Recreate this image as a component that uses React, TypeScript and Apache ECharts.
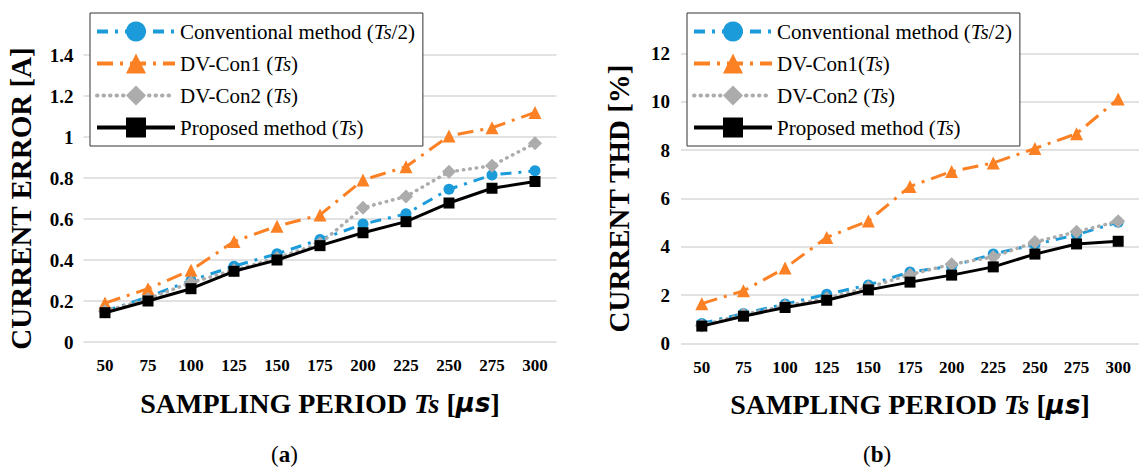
import React, { useEffect, useRef } from "react";
import * as echarts from "echarts";

const categories = ["50", "75", "100", "125", "150", "175", "200", "225", "250", "275", "300"];

// (a) current error [A]
const errConventional = [0.15, 0.22, 0.3, 0.37, 0.43, 0.5, 0.575, 0.625, 0.745, 0.815, 0.835];
const errDvCon1 = [0.19, 0.26, 0.35, 0.49, 0.565, 0.62, 0.79, 0.855, 1.005, 1.045, 1.12];
const errDvCon2 = [0.15, 0.21, 0.29, 0.35, 0.41, 0.48, 0.655, 0.71, 0.83, 0.86, 0.97];
const errProposed = [0.143, 0.2, 0.26, 0.345, 0.4, 0.47, 0.533, 0.587, 0.678, 0.75, 0.783];

// (b) current THD [%]
const thdConventional = [0.83, 1.24, 1.63, 2.04, 2.42, 2.96, 3.2, 3.7, 4.1, 4.5, 5.02];
const thdDvCon1 = [1.65, 2.18, 3.12, 4.39, 5.07, 6.5, 7.12, 7.47, 8.07, 8.68, 10.12];
const thdDvCon2 = [0.75, 1.2, 1.55, 1.87, 2.32, 2.85, 3.28, 3.58, 4.2, 4.62, 5.06];
const thdProposed = [0.72, 1.13, 1.49, 1.79, 2.22, 2.54, 2.83, 3.17, 3.7, 4.12, 4.23];

const errTicks = { min: 0, max: 1.4, interval: 0.2 };
const thdTicks = { min: 0, max: 12, interval: 2 };

const seriesNames = ["conv", "dv1", "dv2", "prop"];

const SERIF = "'Liberation Serif', 'Times New Roman', serif";

const BLUE = "#1b9bd9";
const ORANGE = "#fb8124";
const GREY = "#acacac";
const BLACK = "#000000";

export default function App() {
  const ref = useRef<HTMLDivElement>(null);

  useEffect(() => {
    document.body.style.margin = "0";
    if (!ref.current) return;
    const chart = echarts.init(ref.current, null, { renderer: "svg" });

    const styles: Record<string, any> = {
      conv: { color: BLUE, symbol: "circle", symbolSize: 11, lineStyle: { color: BLUE, width: 3, type: [11, 7, 3, 7] } },
      dv1: { color: ORANGE, symbol: "triangle", symbolSize: 13, lineStyle: { color: ORANGE, width: 3, type: [16, 7, 3, 7] } },
      dv2: { color: GREY, symbol: "diamond", symbolSize: 14, lineStyle: { color: GREY, width: 3.5, type: [0.5, 6], cap: "round" } },
      prop: { color: BLACK, symbol: "rect", symbolSize: 11, lineStyle: { color: BLACK, width: 3, type: "solid" } },
    };

    const dataA = [errConventional, errDvCon1, errDvCon2, errProposed];
    const dataB = [thdConventional, thdDvCon1, thdDvCon2, thdProposed];

    const mkSeries = (idx: number, arrs: number[][]) =>
      seriesNames.map((n, i) => ({
        name: n,
        type: "line",
        xAxisIndex: idx,
        yAxisIndex: idx,
        data: arrs[i],
        showSymbol: true,
        symbol: styles[n].symbol,
        symbolSize: styles[n].symbolSize,
        itemStyle: { color: styles[n].color },
        lineStyle: styles[n].lineStyle,
        z: 2 + i,
        emphasis: { disabled: true },
      }));

    const legendA: Record<string, string> = {
      conv: "Conventional method ({i|Ts}/2)",
      dv1: "DV-Con1 ({i|Ts})",
      dv2: "DV-Con2 ({i|Ts})",
      prop: "Proposed method ({i|Ts})",
    };
    const legendB: Record<string, string> = {
      conv: "Conventional method ({i|Ts}/2)",
      dv1: "DV-Con1({i|Ts})",
      dv2: "DV-Con2 ({i|Ts})",
      prop: "Proposed method ({i|Ts})",
    };

    const legendText = {
      fontFamily: SERIF,
      fontSize: 21,
      color: "#000",
      rich: { i: { fontFamily: SERIF, fontSize: 21, fontStyle: "italic", color: "#000" } },
    };

    const mkLegend = (left: number, map: Record<string, string>) => ({
      orient: "vertical",
      left,
      top: 13,
      data: seriesNames,
      itemWidth: 78,
      itemHeight: 25,
      itemGap: 11,
      padding: [8, 8, 8, 5],
      backgroundColor: "#fff",
      borderColor: "#333",
      borderWidth: 1,
      borderRadius: 0,
      selectedMode: false,
      lineStyle: { width: 4 },
      textStyle: legendText,
      formatter: (n: string) => map[n],
    });

    const xAxisCommon = {
      type: "category",
      data: categories,
      boundaryGap: true,
      axisLine: { show: false },
      axisTick: { show: false },
      splitLine: { show: false },
      axisLabel: { fontFamily: SERIF, fontWeight: "bold", fontSize: 17, color: "#000", margin: 15 },
      name: "SAMPLING PERIOD {i|Ts} [{m|μs}]",
      nameLocation: "middle",
      nameGap: 47,
      nameTextStyle: {
        fontFamily: SERIF,
        fontWeight: "bold",
        fontSize: 28,
        color: "#000",
        rich: {
          i: { fontFamily: SERIF, fontWeight: "bold", fontStyle: "italic", fontSize: 28, color: "#000" },
          m: { fontFamily: "'DejaVu Sans', sans-serif", fontWeight: "bold", fontStyle: "italic", fontSize: 26, color: "#000" },
        },
      },
    };

    const yAxisCommon = {
      type: "value",
      axisLine: { show: false },
      axisTick: { show: false },
      splitLine: { show: true, lineStyle: { color: "#d9d9d9", width: 1.5 } },
      nameLocation: "middle",
      nameGap: 48,
      nameRotate: 90,
      nameTextStyle: { fontFamily: SERIF, fontWeight: "bold", fontSize: 29, color: "#000" },
    };

    const numLabel = {
      fontFamily: SERIF,
      fontWeight: "bold",
      fontSize: 19,
      color: "#000",
    };

    chart.setOption({
      animation: false,
      backgroundColor: "#fff",
      grid: [
        { left: 83.5, top: 55, width: 473, height: 287 },
        { left: 681, top: 53.5, width: 458, height: 290 },
      ],
      legend: [mkLegend(90, legendA), mkLegend(687, legendB)],
      xAxis: [
        { ...xAxisCommon, gridIndex: 0 },
        { ...xAxisCommon, gridIndex: 1 },
      ],
      yAxis: [
        {
          ...yAxisCommon,
          gridIndex: 0,
          ...errTicks,
          name: "CURRENT ERROR [A]",
          axisLabel: { ...numLabel, margin: 10, formatter: (v: number) => String(+v.toFixed(1)) },
        },
        {
          ...yAxisCommon,
          gridIndex: 1,
          ...thdTicks,
          name: "CURRENT THD [%]",
          axisLabel: { ...numLabel, margin: 11 },
        },
      ],
      graphic: [
        {
          type: "text",
          left: 271,
          top: 443,
          style: {
            text: "({b|a})",
            fontFamily: SERIF,
            fontSize: 23,
            fill: "#000",
            rich: { b: { fontFamily: SERIF, fontSize: 23, fontWeight: "bold", fill: "#000" } },
          },
        },
        {
          type: "text",
          left: 863,
          top: 443,
          style: {
            text: "({b|b})",
            fontFamily: SERIF,
            fontSize: 23,
            fill: "#000",
            rich: { b: { fontFamily: SERIF, fontSize: 23, fontWeight: "bold", fill: "#000" } },
          },
        },
      ],
      series: [...mkSeries(0, dataA), ...mkSeries(1, dataB)],
    });

    return () => chart.dispose();
  }, []);

  return <div ref={ref} style={{ width: 1144, height: 470 }} />;
}
